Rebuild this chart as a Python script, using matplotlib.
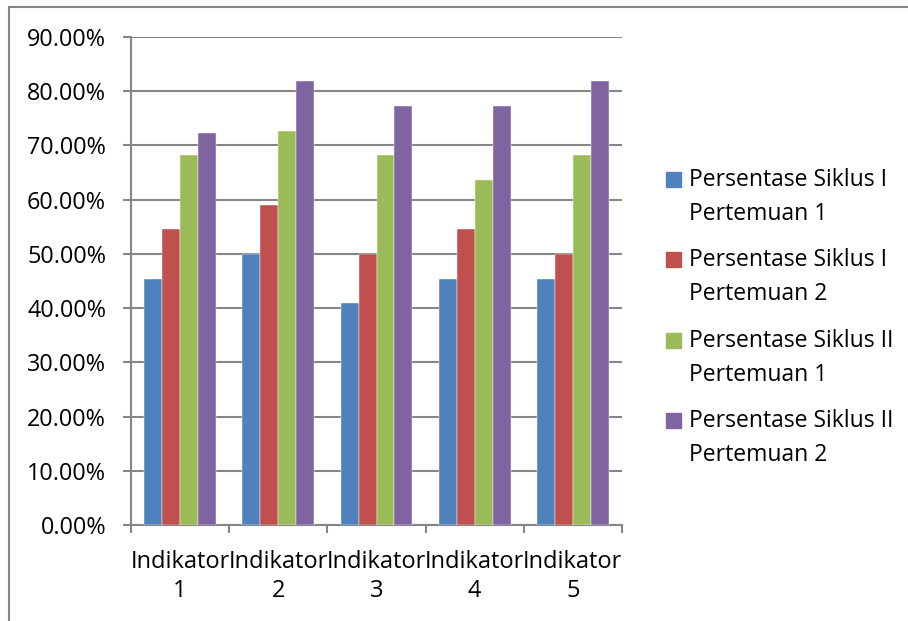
#!/usr/bin/env python3
import numpy as np
import matplotlib
matplotlib.use("Agg")
import matplotlib.pyplot as plt
from matplotlib.lines import Line2D
from matplotlib.patches import Rectangle
from matplotlib.ticker import PercentFormatter

plt.rcParams["font.family"] = ["Open Sans", "DejaVu Sans"]

# --- data ---
categories = ["Indikator\n1", "Indikator\n2", "Indikator\n3", "Indikator\n4", "Indikator\n5"]
series_names = [
    ("Persentase Siklus I", "Pertemuan 1"),
    ("Persentase Siklus I", "Pertemuan 2"),
    ("Persentase Siklus II", "Pertemuan 1"),
    ("Persentase Siklus II", "Pertemuan 2"),
]
siklus1_p1 = [45.45, 50.00, 40.91, 45.45, 45.45]
siklus1_p2 = [54.55, 59.09, 50.00, 54.55, 50.00]
siklus2_p1 = [68.18, 72.73, 68.18, 63.64, 68.18]
siklus2_p2 = [72.30, 81.82, 77.27, 77.27, 81.82]
series = [siklus1_p1, siklus1_p2, siklus2_p1, siklus2_p2]
colors = ["#4F81BD", "#C0504D", "#9BBB59", "#8064A2"]
yticks = np.arange(0, 91, 10)

GRAY = "#868686"
FS = 16.5
W, H = 908, 621

fig = plt.figure(figsize=(W / 100, H / 100), dpi=100)
ax = fig.add_axes([131 / W, 1 - 525 / H, (622 - 131) / W, (525 - 37) / H])

# bars
x = np.arange(len(categories))
bw = 0.183
for i, (vals, c) in enumerate(zip(series, colors)):
    ax.bar(x + (i - 1.5) * bw, vals, bw, color=c, edgecolor="white",
           linewidth=0.3, zorder=3)

ax.set_xlim(-0.5, len(categories) - 0.5)
ax.set_ylim(0, 90)
ax.set_yticks(yticks)
ax.yaxis.set_major_formatter(PercentFormatter(decimals=2))
ax.grid(axis="y", color=GRAY, linewidth=1.5, zorder=0)

# category boundaries get the tick marks, labels sit at the centres
ax.set_xticks(np.arange(-0.5, len(categories)), [""] * (len(categories) + 1))
ax.set_xticks(x, categories, minor=True)
ax.tick_params(axis="x", which="major", length=6, width=1.5, color=GRAY, direction="out")
ax.tick_params(axis="x", which="minor", length=0, pad=18, labelsize=17)
ax.tick_params(axis="y", length=6, width=1.5, color=GRAY, pad=12, labelsize=FS + 0.3)
for lbl in ax.get_xticklabels(minor=True):
    lbl.set_linespacing(1.3)

for side in ["top", "right"]:
    ax.spines[side].set_visible(False)
for side in ["left", "bottom"]:
    ax.spines[side].set_color(GRAY)
    ax.spines[side].set_linewidth(1.5)

# legend drawn by hand: square next to the first line of each entry
for k, ((l1, l2), c) in enumerate(zip(series_names, colors)):
    top = 172 + k * 80.3
    fig.patches.append(Rectangle((666 / W, 1 - (top + 15) / H), 15 / W, 15 / H,
                                 transform=fig.transFigure, color=c))
    fig.text(689 / W, 1 - (top + 14) / H, l1, fontsize=FS, va="baseline")
    fig.text(689 / W, 1 - (top + 48) / H, l2, fontsize=FS, va="baseline")

# chart frame (left and top edges)
fig.add_artist(Line2D([9 / W, 9 / W], [0, 1 - 7 / H], transform=fig.transFigure,
                      color=GRAY, linewidth=1.5))
fig.add_artist(Line2D([9 / W, 1], [1 - 7 / H, 1 - 7 / H], transform=fig.transFigure,
                      color=GRAY, linewidth=1.5))

fig.savefig("out.png", dpi=100)
